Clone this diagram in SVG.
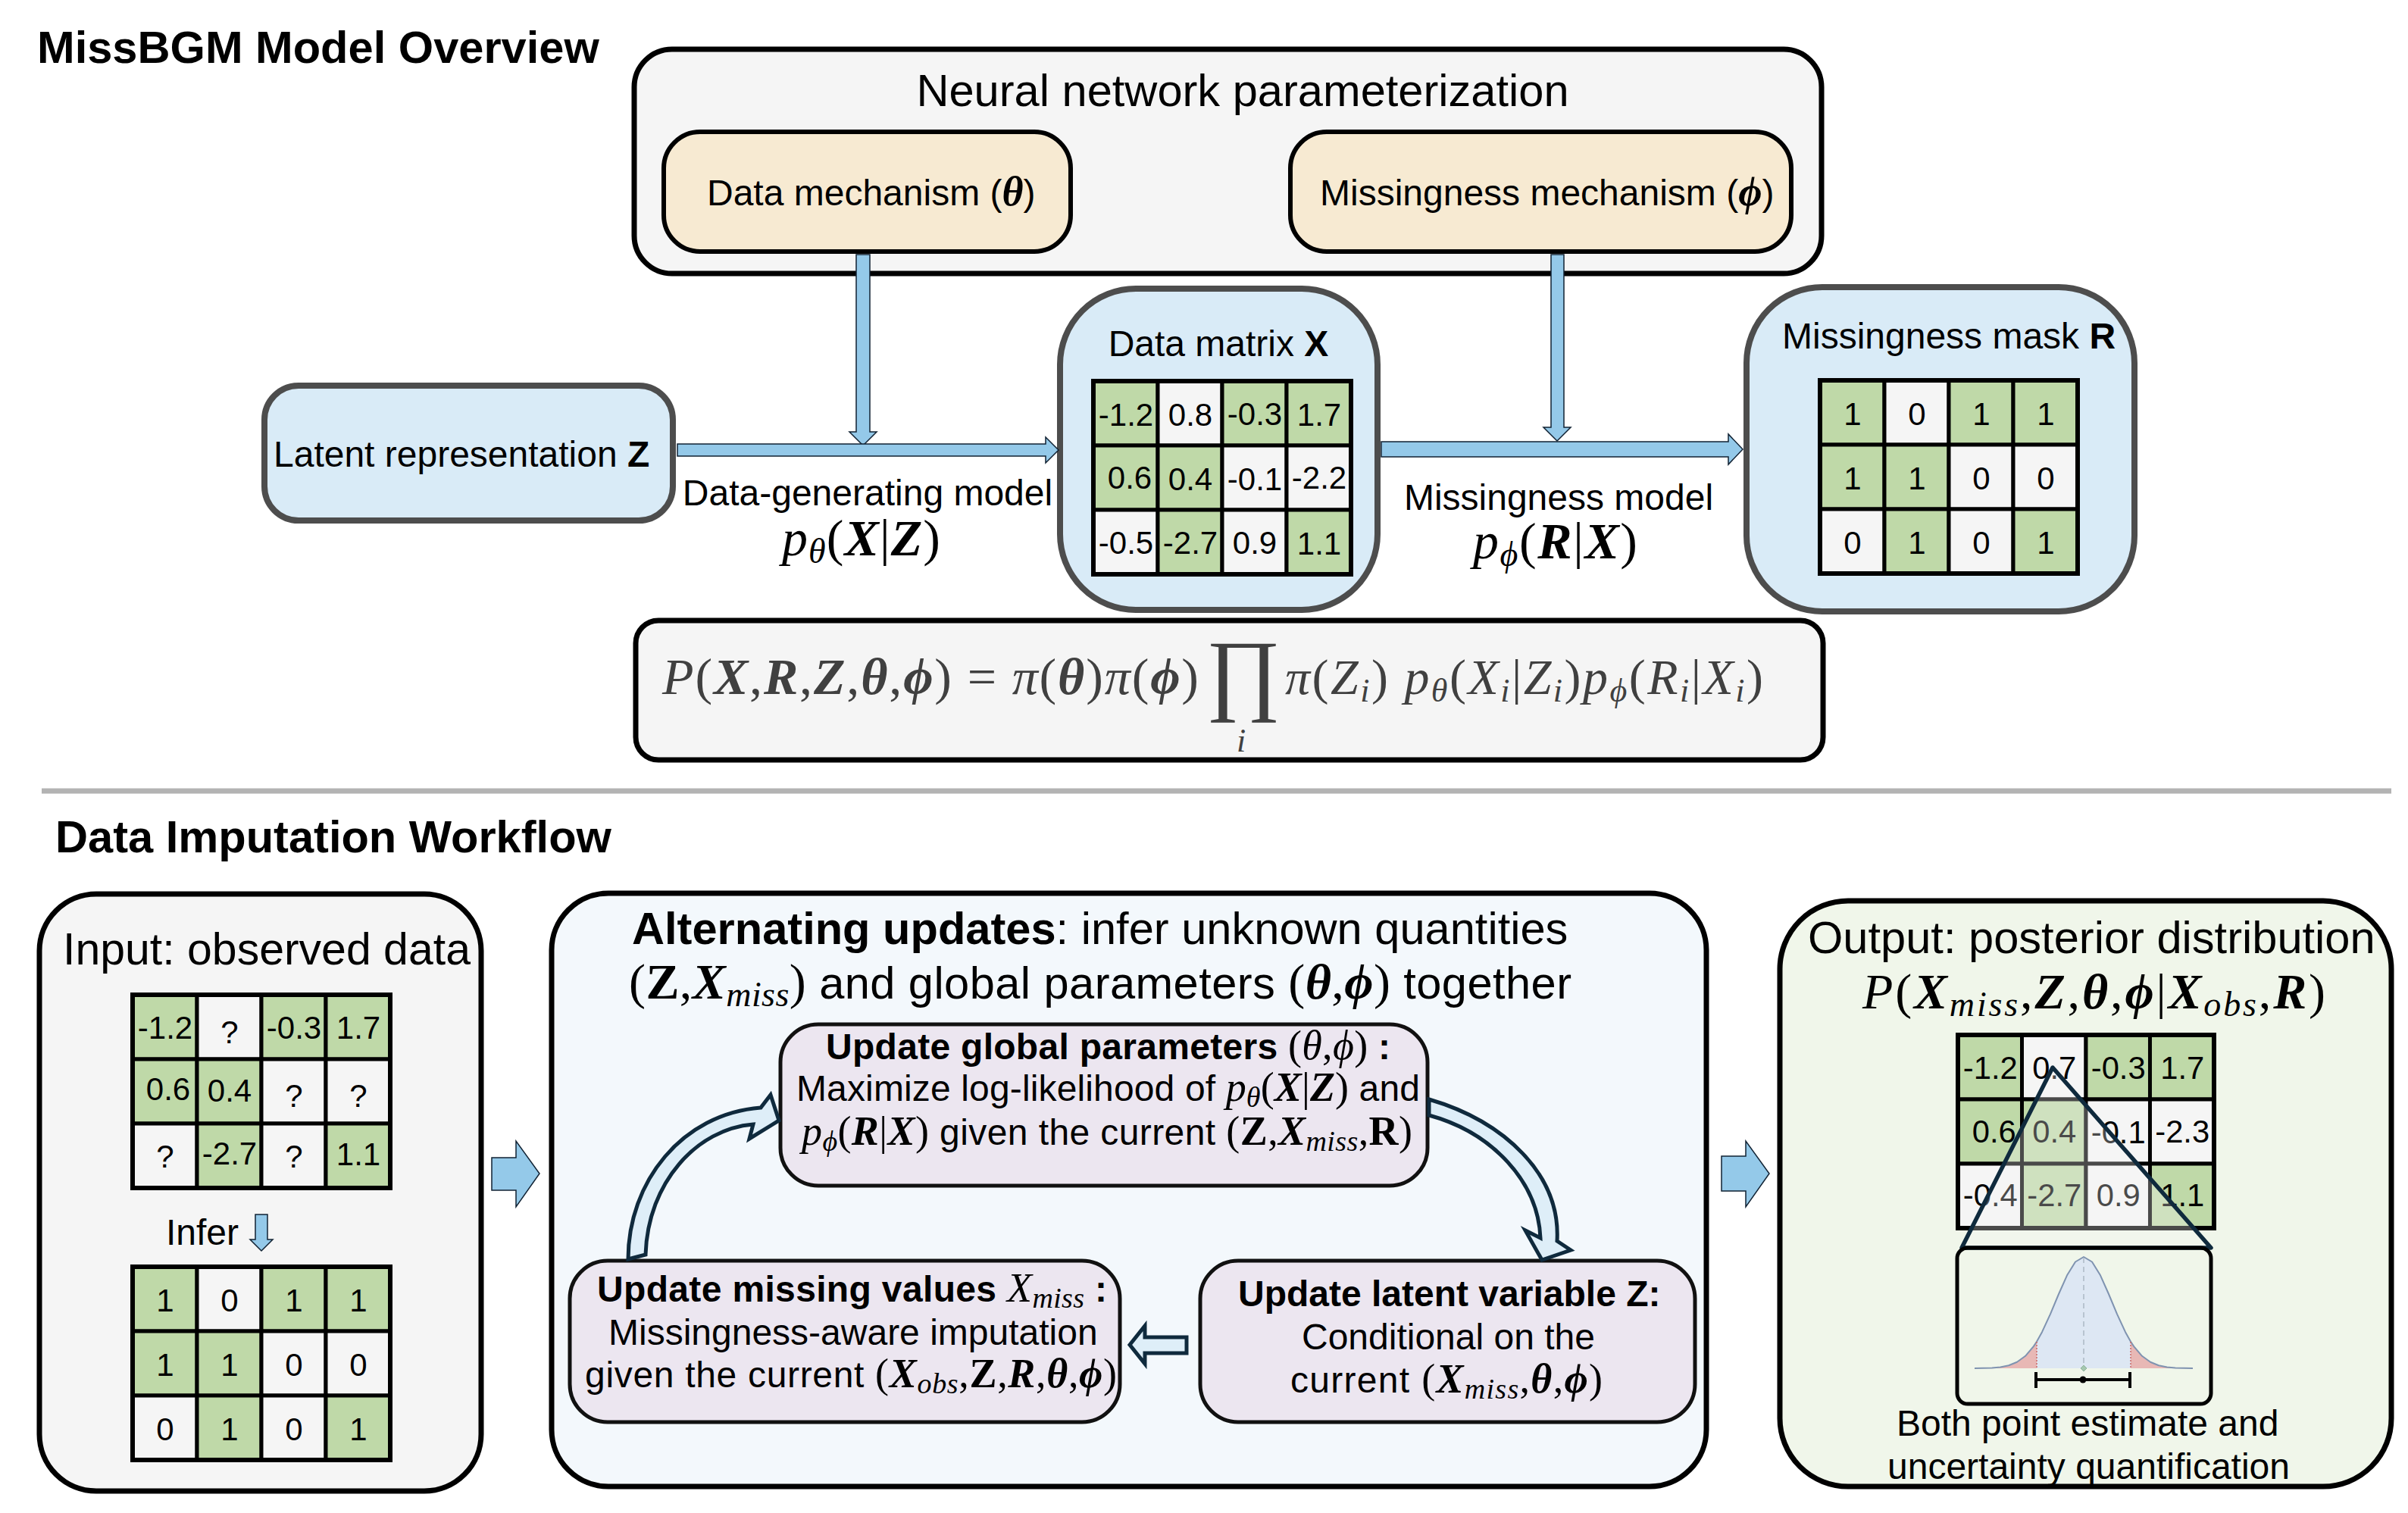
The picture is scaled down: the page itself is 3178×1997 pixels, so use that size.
<svg xmlns="http://www.w3.org/2000/svg" width="3178" height="1997" viewBox="0 0 3178 1997">
<style>
text{font-family:"Liberation Sans",Arial,sans-serif;fill:#000}
.h{font-size:59.6px;font-weight:700}
.l{font-size:59.6px}
.s{font-size:48px}
.c{font-size:42px;text-anchor:middle;transform:translate(1px,2px)}
.mid{text-anchor:middle}
.bo{font-weight:700}
.m{font-family:"Liberation Serif","DejaVu Serif",serif;font-style:italic}
.mb{font-family:"Liberation Serif","DejaVu Serif",serif;font-style:italic;font-weight:700}
.rb{font-family:"Liberation Serif","DejaVu Serif",serif;font-weight:700}
.r{font-family:"Liberation Serif","DejaVu Serif",serif}
.s .m,.s .mb,.s .r,.s .rb{font-size:54px}
.l .m,.l .mb,.l .r,.l .rb{font-size:66px}
.s .sub{font-size:38px}
.l .sub{font-size:46px}
.fx{fill:#404040}
.blk{stroke:#000;stroke-width:7}
.gr{fill:#f5f5f5}
.tan{fill:#f7ead2;stroke:#000;stroke-width:6}
.blu{fill:#d9ebf7;stroke:#4d4d4d;stroke-width:8}
.pur{fill:#ece6f0;stroke:#111;stroke-width:5}
.ar{fill:#94c9e9;stroke:#123;stroke-width:1.5}
.oa{fill:#deeef8;stroke:#0f2a3d;stroke-width:5}
.G{fill:#bfd9a8;stroke:#000;stroke-width:5}
.W{fill:#f5f5f5;stroke:#000;stroke-width:5}
</style>
<defs>
<g id="grid">
<rect class="G" width="85" height="85"/><rect class="W" x="85" width="85" height="85"/><rect class="G" x="170" width="85" height="85"/><rect class="G" x="255" width="85" height="85"/>
<rect class="G" y="85" width="85" height="85"/><rect class="G" x="85" y="85" width="85" height="85"/><rect class="W" x="170" y="85" width="85" height="85"/><rect class="W" x="255" y="85" width="85" height="85"/>
<rect class="W" y="170" width="85" height="85"/><rect class="G" x="85" y="170" width="85" height="85"/><rect class="W" x="170" y="170" width="85" height="85"/><rect class="G" x="255" y="170" width="85" height="85"/>
<rect width="340" height="255" fill="none" stroke="#000" stroke-width="6"/>
</g>
</defs>
<rect width="3178" height="1997" fill="#fff"/>
<text class="h" x="49" y="83">MissBGM Model Overview</text>
<text class="h" x="73" y="1125">Data Imputation Workflow</text>
<line x1="55" y1="1044" x2="3156" y2="1044" stroke="#b3b3b3" stroke-width="7"/>

<g id="neural-network">
<rect class="gr blk" x="837" y="65" width="1567" height="296" rx="50"/>
<text class="l mid" x="1640" y="140">Neural network parameterization</text>
</g>
<g id="data-mechanism">
<rect class="tan" x="876" y="174" width="537" height="158" rx="48"/>
<text class="s" x="933" y="271">Data mechanism (<tspan class="mb">θ</tspan>)</text>
</g>
<g id="missingness-mechanism">
<rect class="tan" x="1703" y="174" width="661" height="158" rx="48"/>
<text class="s" x="1742" y="271">Missingness mechanism (<tspan class="mb">ϕ</tspan>)</text>
</g>
<g id="latent-z">
<rect class="blu" x="349" y="509" width="539" height="178" rx="45"/>
<text class="s" x="361" y="616">Latent representation <tspan class="bo">Z</tspan></text>
</g>
<g id="data-matrix">
<rect class="blu" x="1399" y="381" width="419" height="424" rx="100"/>
<text class="s mid" x="1608" y="470">Data matrix <tspan class="bo">X</tspan></text>
<g transform="translate(1443 503)">
<use href="#grid"/>
<text class="c" x="42" y="57">-1.2</text><text class="c" x="127" y="57">0.8</text><text class="c" x="212" y="56">-0.3</text><text class="c" x="297" y="57">1.7</text>
<text class="c" x="47" y="140">0.6</text><text class="c" x="127" y="142">0.4</text><text class="c" x="212" y="142">-0.1</text><text class="c" x="297" y="140">-2.2</text>
<text class="c" x="42" y="226">-0.5</text><text class="c" x="127" y="226">-2.7</text><text class="c" x="212" y="226">0.9</text><text class="c" x="297" y="227">1.1</text>
</g>
</g>
<g id="missingness-mask">
<rect class="blu" x="2305" y="379" width="512" height="428" rx="100"/>
<text class="s" x="2352" y="460">Missingness mask <tspan class="bo">R</tspan></text>
<g transform="translate(2402 502)">
<use href="#grid"/>
<text class="c" x="42" y="57">1</text><text class="c" x="127" y="57">0</text><text class="c" x="212" y="57">1</text><text class="c" x="297" y="57">1</text>
<text class="c" x="42" y="142">1</text><text class="c" x="127" y="142">1</text><text class="c" x="212" y="142">0</text><text class="c" x="297" y="142">0</text>
<text class="c" x="42" y="227">0</text><text class="c" x="127" y="227">1</text><text class="c" x="212" y="227">0</text><text class="c" x="297" y="227">1</text>
</g>
</g>
<g id="model-labels">
<text class="s mid" x="1145" y="667">Data-generating model</text>
<text x="1032" y="733" font-size="68" textLength="209"><tspan class="m">p</tspan><tspan class="m" font-size="46" dy="10">θ</tspan><tspan class="r" dy="-10">(</tspan><tspan class="mb">X</tspan><tspan class="r">|</tspan><tspan class="mb">Z</tspan><tspan class="r">)</tspan></text>
<text class="s mid" x="2057" y="673">Missingness model</text>
<text x="1944" y="737" font-size="68" textLength="217"><tspan class="m">p</tspan><tspan class="m" font-size="46" dy="10">ϕ</tspan><tspan class="r" dy="-10">(</tspan><tspan class="mb">R</tspan><tspan class="r">|</tspan><tspan class="mb">X</tspan><tspan class="r">)</tspan></text>
</g>
<g id="joint-formula">
<rect class="gr blk" x="839" y="819" width="1567" height="184" rx="30"/>
<text class="fx" x="874" y="916" font-size="68" textLength="708"><tspan class="m fx">P</tspan><tspan class="r fx">(</tspan><tspan class="mb fx">X</tspan><tspan class="r fx">,</tspan><tspan class="mb fx">R</tspan><tspan class="r fx">,</tspan><tspan class="mb fx">Z</tspan><tspan class="r fx">,</tspan><tspan class="mb fx">θ</tspan><tspan class="r fx">,</tspan><tspan class="mb fx">ϕ</tspan><tspan class="r fx">) = </tspan><tspan class="m fx">π</tspan><tspan class="r fx">(</tspan><tspan class="mb fx">θ</tspan><tspan class="r fx">)</tspan><tspan class="m fx">π</tspan><tspan class="r fx">(</tspan><tspan class="mb fx">ϕ</tspan><tspan class="r fx">)</tspan></text>
<text class="r fx mid" x="1641" y="928" font-size="120">∏</text>
<text class="m fx mid" x="1638" y="992" font-size="44">i</text>
<text class="fx" x="1696" y="916" font-size="66" textLength="631"><tspan class="m fx">π</tspan><tspan class="r fx">(</tspan><tspan class="m fx">Z</tspan><tspan class="m fx" font-size="44" dy="10">i</tspan><tspan class="r fx" dy="-10">) </tspan><tspan class="m fx">p</tspan><tspan class="m fx" font-size="44" dy="10">θ</tspan><tspan class="r fx" dy="-10">(</tspan><tspan class="m fx">X</tspan><tspan class="m fx" font-size="44" dy="10">i</tspan><tspan class="r fx" dy="-10">|</tspan><tspan class="m fx">Z</tspan><tspan class="m fx" font-size="44" dy="10">i</tspan><tspan class="r fx" dy="-10">)</tspan><tspan class="m fx">p</tspan><tspan class="m fx" font-size="44" dy="10">ϕ</tspan><tspan class="r fx" dy="-10">(</tspan><tspan class="m fx">R</tspan><tspan class="m fx" font-size="44" dy="10">i</tspan><tspan class="r fx" dy="-10">|</tspan><tspan class="m fx">X</tspan><tspan class="m fx" font-size="44" dy="10">i</tspan><tspan class="r fx" dy="-10">)</tspan></text>
</g>

<g id="input-panel">
<rect class="gr blk" x="52" y="1180" width="583" height="788" rx="75"/>
<text x="83" y="1273" style="font-size:59px">Input: observed data</text>
<g transform="translate(175 1313)">
<use href="#grid"/>
<text class="c" x="42" y="56">-1.2</text><text class="c" x="127" y="62">?</text><text class="c" x="212" y="56">-0.3</text><text class="c" x="297" y="56">1.7</text>
<text class="c" x="46" y="137">0.6</text><text class="c" x="127" y="139">0.4</text><text class="c" x="212" y="146">?</text><text class="c" x="297" y="146">?</text>
<text class="c" x="42" y="226">?</text><text class="c" x="127" y="222">-2.7</text><text class="c" x="212" y="226">?</text><text class="c" x="297" y="223">1.1</text>
</g>
<text class="s" x="219" y="1643">Infer</text>
<g transform="translate(175 1672)">
<use href="#grid"/>
<text class="c" x="42" y="57">1</text><text class="c" x="127" y="57">0</text><text class="c" x="212" y="57">1</text><text class="c" x="297" y="57">1</text>
<text class="c" x="42" y="142">1</text><text class="c" x="127" y="142">1</text><text class="c" x="212" y="142">0</text><text class="c" x="297" y="142">0</text>
<text class="c" x="42" y="227">0</text><text class="c" x="127" y="227">1</text><text class="c" x="212" y="227">0</text><text class="c" x="297" y="227">1</text>
</g>
</g>

<g id="alternating-panel">
<rect x="728" y="1179" width="1524" height="783" rx="75" fill="#f3f8fc" stroke="#000" stroke-width="7"/>
<text class="l" x="834" y="1246"><tspan class="bo">Alternating updates</tspan>: infer unknown quantities</text>
<text class="l" x="830" y="1318" textLength="1244"><tspan class="r">(</tspan><tspan class="rb">Z</tspan><tspan class="r">,</tspan><tspan class="mb">X</tspan><tspan class="m sub" dy="10">miss</tspan><tspan class="r" dy="-10">)</tspan> and global parameters <tspan class="r">(</tspan><tspan class="mb">θ</tspan><tspan class="r">,</tspan><tspan class="mb">ϕ</tspan><tspan class="r">)</tspan> together</text>
</g>
<g id="update-global">
<rect class="pur" x="1030" y="1352" width="854" height="213" rx="50"/>
<text class="s" x="1090" y="1398" textLength="745"><tspan class="bo">Update global parameters </tspan><tspan class="r">(</tspan><tspan class="m">θ</tspan><tspan class="r">,</tspan><tspan class="m">ϕ</tspan><tspan class="r">)</tspan><tspan class="bo"> :</tspan></text>
<text class="s" x="1051" y="1453" textLength="823">Maximize log-likelihood of <tspan class="m">p</tspan><tspan class="m sub" dy="8">θ</tspan><tspan class="r" dy="-8">(</tspan><tspan class="mb">X</tspan><tspan class="r">|</tspan><tspan class="mb">Z</tspan><tspan class="r">)</tspan> and</text>
<text class="s" x="1058" y="1511" textLength="806"><tspan class="m">p</tspan><tspan class="m sub" dy="8">ϕ</tspan><tspan class="r" dy="-8">(</tspan><tspan class="mb">R</tspan><tspan class="r">|</tspan><tspan class="mb">X</tspan><tspan class="r">)</tspan> given the current <tspan class="r">(</tspan><tspan class="rb">Z</tspan><tspan class="r">,</tspan><tspan class="mb">X</tspan><tspan class="m sub" dy="8">miss</tspan><tspan class="r" dy="-8">,</tspan><tspan class="rb">R</tspan><tspan class="r">)</tspan></text>
</g>
<g id="update-missing">
<rect class="pur" x="752" y="1664" width="726" height="213" rx="50"/>
<text class="s" x="788" y="1718" textLength="673"><tspan class="bo">Update missing values </tspan><tspan class="m">X</tspan><tspan class="m sub" dy="8">miss</tspan><tspan class="bo" dy="-8"> :</tspan></text>
<text class="s" x="803" y="1775">Missingness-aware imputation</text>
<text class="s" x="772" y="1831" textLength="702">given the current <tspan class="r">(</tspan><tspan class="mb">X</tspan><tspan class="m sub" dy="8">obs</tspan><tspan class="r" dy="-8">,</tspan><tspan class="rb">Z</tspan><tspan class="r">,</tspan><tspan class="mb">R</tspan><tspan class="r">,</tspan><tspan class="mb">θ</tspan><tspan class="r">,</tspan><tspan class="mb">ϕ</tspan><tspan class="r">)</tspan></text>
</g>
<g id="update-latent">
<rect class="pur" x="1584" y="1664" width="653" height="213" rx="50"/>
<text class="s bo" x="1634" y="1724">Update latent variable Z:</text>
<text class="s" x="1718" y="1781">Conditional on the</text>
<text class="s" x="1703" y="1838" textLength="412">current <tspan class="r">(</tspan><tspan class="mb">X</tspan><tspan class="m sub" dy="8">miss</tspan><tspan class="r" dy="-8">,</tspan><tspan class="mb">θ</tspan><tspan class="r">,</tspan><tspan class="mb">ϕ</tspan><tspan class="r">)</tspan></text>
</g>

<g id="output-panel">
<rect x="2349" y="1189" width="807" height="773" rx="90" fill="#f0f6ea" stroke="#000" stroke-width="7"/>
<text class="l" x="2386" y="1258">Output: posterior distribution</text>
<text x="2458" y="1331" font-size="66" textLength="611"><tspan class="m">P</tspan><tspan class="r">(</tspan><tspan class="mb">X</tspan><tspan class="m" font-size="46" dy="10">miss</tspan><tspan class="r" dy="-10">,</tspan><tspan class="mb">Z</tspan><tspan class="r">,</tspan><tspan class="mb">θ</tspan><tspan class="r">,</tspan><tspan class="mb">ϕ</tspan><tspan class="r">|</tspan><tspan class="mb">X</tspan><tspan class="m" font-size="46" dy="10">obs</tspan><tspan class="r" dy="-10">,</tspan><tspan class="mb">R</tspan><tspan class="r">)</tspan></text>
<g transform="translate(2584 1366) scale(.994 1)">
<use href="#grid"/>
<text class="c" x="42" y="56">-1.2</text><text class="c" x="127" y="56">0.7</text><text class="c" x="212" y="56">-0.3</text><text class="c" x="297" y="56">1.7</text>
<text class="c" x="47" y="140">0.6</text><text class="c" x="127" y="140">0.4</text><text class="c" x="212" y="141">-0.1</text><text class="c" x="297" y="140">-2.3</text>
<text class="c" x="42" y="224">-0.4</text><text class="c" x="127" y="224">-2.7</text><text class="c" x="212" y="224">0.9</text><text class="c" x="297" y="224">1.1</text>
</g>
<path d="M2709 1409L2918 1647H2589Z" fill="#f5f5f5" fill-opacity=".3" stroke="#0f2a3d" stroke-width="5.5" stroke-linejoin="round"/>
<rect x="2583" y="1647" width="335" height="206" rx="14" fill="none" stroke="#000" stroke-width="5"/>
<path d="M2688 1770.7L2695 1758.2L2706 1734.4L2717 1708L2728 1683.3L2739 1665.5L2750 1659L2761 1665.5L2772 1683.3L2783 1708L2794 1734.4L2805 1758.2L2812 1770.7V1806H2688Z" fill="#dde7f3"/>
<path d="M2688 1770.7V1806H2606L2629 1805.4L2640 1804.4L2651 1802.2L2662 1797.8L2673 1789.8L2684 1776.9Z" fill="#e8b8b5"/>
<path d="M2812 1770.7V1806H2894L2871 1805.4L2860 1804.4L2849 1802.2L2838 1797.8L2827 1789.8L2816 1776.9Z" fill="#e8b8b5"/>
<path d="M2606 1806L2629 1805.4L2640 1804.4L2651 1802.2L2662 1797.8L2673 1789.8L2684 1776.9L2688 1770.7L2695 1758.2L2706 1734.4L2717 1708L2728 1683.3L2739 1665.5L2750 1659L2761 1665.5L2772 1683.3L2783 1708L2794 1734.4L2805 1758.2L2812 1770.7L2816 1776.9L2827 1789.8L2838 1797.8L2849 1802.2L2860 1804.4L2871 1805.4L2894 1806" fill="none" stroke="#7f93b0" stroke-width="2" stroke-linejoin="round"/>
<path d="M2750 1660V1802" stroke="#b8c4d0" stroke-width="2" stroke-dasharray="7 5" fill="none"/>
<path d="M2688 1771V1806M2812 1771V1806" stroke="#c96a6a" stroke-width="1.5" stroke-dasharray="2 2" fill="none"/>
<path d="M2750 1802L2754 1806L2750 1810L2746 1806Z" fill="#a5c8b0" stroke="#8fb39c"/>
<path d="M2687 1821H2811M2687 1811V1832M2811 1811V1832" stroke="#000" stroke-width="4" fill="none"/>
<circle cx="2749" cy="1821" r="4.5" fill="#000"/>
<text class="s" x="2503" y="1895">Both point estimate and</text>
<text class="s" x="2491" y="1952">uncertainty quantification</text>
</g>

<g id="connectors">
<path class="ar" d="M1130 336H1148V570H1157L1139 588L1121 570H1130Z"/>
<path class="ar" d="M894 586H1380V577L1397 594L1380 611V602H894Z"/>
<path class="ar" d="M2047 336H2064V564H2073L2055 582L2037 564H2047Z"/>
<path class="ar" d="M1823 583H2281V573L2300 593L2281 613V603H1823Z"/>
<path class="ar" d="M337 1603H353V1636H360L345 1651L330 1636H337Z"/>
<path class="ar" d="M649 1528H681V1506L712 1549L681 1593V1571H649Z"/>
<path class="ar" d="M2272 1526H2304V1506L2335 1549L2304 1593V1572H2272Z"/>
<path class="oa" d="M829 1662C829 1560 900 1470 1004 1462L1017 1445L1028 1479L989 1503L994 1484C920 1490 855 1560 852 1656Z"/>
<path class="oa" d="M1886 1451C1985 1480 2060 1550 2055 1638L2073 1650L2035 1663L2013 1624L2033 1634C2030 1560 1970 1495 1886 1472Z"/>
<path class="oa" d="M1491 1775L1511 1750V1765H1566V1786H1511V1800Z"/>
</g>
</svg>
